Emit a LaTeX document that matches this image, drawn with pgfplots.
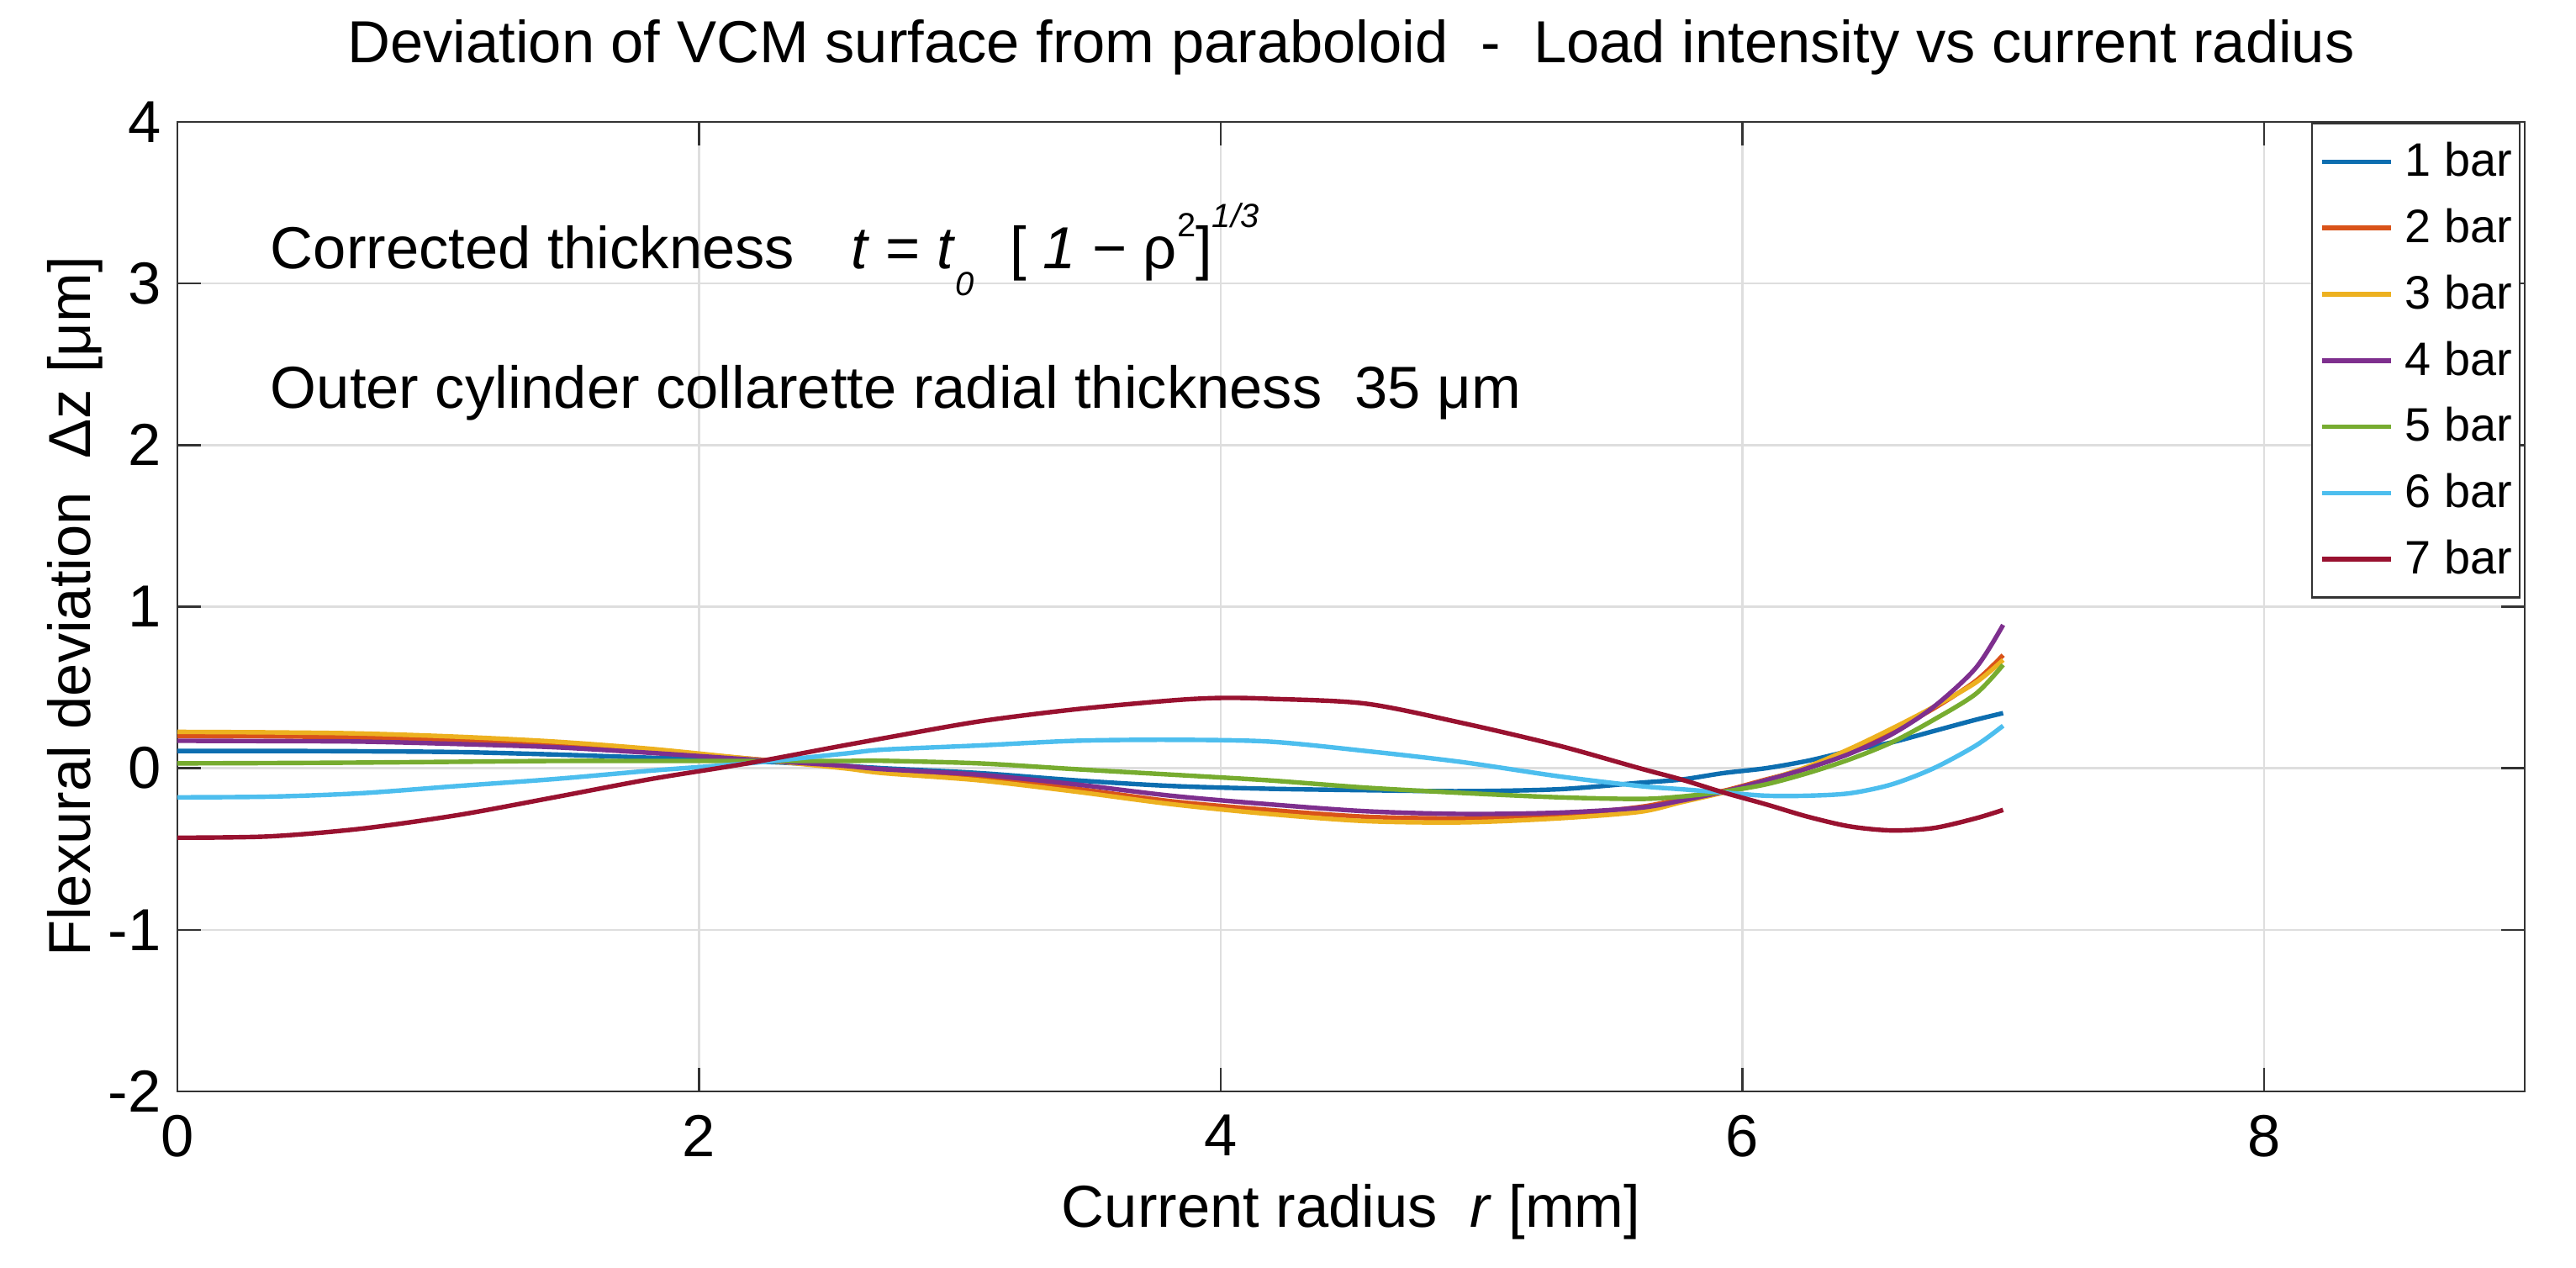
\documentclass[border=0pt]{standalone}
\usepackage{fontspec}
\setmainfont{Liberation Sans}
\usepackage{pgfplots}
\pgfplotsset{compat=1.18}
\definecolor{c1}{rgb}{0.05,0.43,0.69}
\definecolor{c2}{rgb}{0.85,0.325,0.098}
\definecolor{c3}{rgb}{0.929,0.694,0.125}
\definecolor{c4}{rgb}{0.494,0.184,0.556}
\definecolor{c5}{rgb}{0.466,0.674,0.188}
\definecolor{c6}{rgb}{0.301,0.745,0.933}
\definecolor{c7}{rgb}{0.60,0.07,0.19}
\newcommand\bigf{\fontsize{17.7}{21}\selectfont}
\newcommand\smf{\fontsize{10}{12}\selectfont}
\begin{document}
\begin{tikzpicture}
\begin{axis}[name=ax, scale only axis, width=698bp, height=288.25bp,
  xmin=0, xmax=9, ymin=-2, ymax=4,
  xtick={0,2,4,6,8}, ytick={-2,-1,0,1,2,3,4},
  grid=major, major grid style={color=black!13, line width=0.6bp},
  axis line style={color=black!80, line width=0.6bp},
  tick style={color=black!80, line width=0.6bp},
  tick align=inside, major tick length=7bp,
  /pgf/number format/assume math mode=true,
  ticklabel style={font=\bigf},
  xticklabel style={yshift=-3.5bp},
  yticklabel style={xshift=-1.4bp},
  title={Deviation of VCM surface from paraboloid\ \ -\ \ Load intensity vs current radius},
  title style={at={([yshift=16.25bp]axis description cs:0.5,1)}, anchor=center, font=\bigf},
  xlabel={Current radius\ \ \textit{r} [mm]},
  xlabel style={at={([yshift=-35.75bp]axis description cs:0.5,0)}, anchor=center, font=\bigf},
  ylabel={Flexural deviation\ \ Δz [μm]},
  ylabel style={at={([xshift=-30.5bp]axis description cs:0,0.5)}, anchor=center, font=\bigf},
  legend image code/.code={\draw[#1, line width=1.4bp] (0bp,0bp) -- (20.5bp,0bp);},
  legend cell align=left,
  legend style={at={(1,1)}, anchor=north east, xshift=-1.25bp, yshift=-0.25bp,
    draw=black!80, line width=0.6bp, fill=white,
    font=\fontsize{14}{16}\selectfont,
    inner xsep=2.25bp, inner ysep=4bp,
    row sep=5.1bp, column sep=3.5bp,
    nodes={inner xsep=0pt, inner ysep=1.5bp}},
  every axis plot/.append style={line width=1.35bp, smooth, no markers},
]
\addplot[c1] coordinates {(0,0.107)(0.35,0.107)(0.70,0.105)(1.075,0.10)(1.445,0.085)(1.815,0.065)(2.185,0.045)(2.555,0.015)(2.705,0.0)(3.075,-0.03)(3.445,-0.075)(3.815,-0.11)(4.185,-0.127)(4.555,-0.136)(4.926,-0.142)(5.296,-0.13)(5.606,-0.09)(5.767,-0.07)(5.928,-0.03)(6.09,0.0)(6.251,0.046)(6.412,0.107)(6.573,0.16)(6.734,0.23)(6.895,0.30)(7.0,0.341)};
\addlegendentry{1 bar}
\addplot[c2] coordinates {(0,0.20)(0.35,0.198)(0.70,0.19)(1.075,0.175)(1.445,0.15)(1.815,0.11)(2.185,0.06)(2.555,0.01)(2.705,-0.02)(3.075,-0.06)(3.445,-0.127)(3.815,-0.205)(4.185,-0.258)(4.555,-0.30)(4.926,-0.31)(5.296,-0.29)(5.606,-0.24)(5.767,-0.19)(5.928,-0.14)(6.09,-0.07)(6.251,0.0)(6.412,0.107)(6.573,0.23)(6.734,0.37)(6.895,0.54)(7.0,0.70)};
\addlegendentry{2 bar}
\addplot[c3] coordinates {(0,0.225)(0.35,0.222)(0.70,0.215)(1.075,0.195)(1.445,0.165)(1.815,0.12)(2.185,0.06)(2.555,0.0)(2.705,-0.03)(3.075,-0.075)(3.445,-0.145)(3.815,-0.223)(4.185,-0.283)(4.555,-0.327)(4.926,-0.335)(5.296,-0.31)(5.606,-0.27)(5.767,-0.21)(5.928,-0.15)(6.09,-0.075)(6.251,0.01)(6.412,0.12)(6.573,0.245)(6.734,0.38)(6.895,0.53)(7.0,0.67)};
\addlegendentry{3 bar}
\addplot[c4] coordinates {(0,0.17)(0.35,0.168)(0.70,0.165)(1.075,0.15)(1.445,0.13)(1.815,0.095)(2.185,0.055)(2.555,0.015)(2.705,-0.006)(3.075,-0.04)(3.445,-0.10)(3.815,-0.171)(4.185,-0.223)(4.555,-0.266)(4.926,-0.283)(5.296,-0.275)(5.606,-0.245)(5.767,-0.20)(5.928,-0.145)(6.09,-0.075)(6.251,0.0)(6.412,0.09)(6.573,0.21)(6.734,0.38)(6.895,0.62)(7.0,0.887)};
\addlegendentry{4 bar}
\addplot[c5] coordinates {(0,0.03)(0.35,0.032)(0.70,0.035)(1.075,0.04)(1.445,0.045)(1.815,0.045)(2.185,0.045)(2.555,0.045)(2.705,0.046)(3.075,0.03)(3.445,-0.006)(3.815,-0.04)(4.185,-0.075)(4.555,-0.12)(4.926,-0.153)(5.296,-0.18)(5.606,-0.19)(5.767,-0.175)(5.928,-0.145)(6.09,-0.10)(6.251,-0.03)(6.412,0.055)(6.573,0.16)(6.734,0.30)(6.895,0.46)(7.0,0.64)};
\addlegendentry{5 bar}
\addplot[c6] coordinates {(0,-0.18)(0.35,-0.176)(0.70,-0.155)(1.075,-0.11)(1.445,-0.067)(1.815,-0.015)(2.185,0.03)(2.555,0.09)(2.705,0.115)(3.075,0.141)(3.445,0.17)(3.815,0.176)(4.185,0.165)(4.555,0.107)(4.926,0.038)(5.296,-0.05)(5.606,-0.11)(5.767,-0.13)(5.928,-0.15)(6.09,-0.17)(6.251,-0.17)(6.412,-0.155)(6.573,-0.10)(6.734,0.0)(6.895,0.14)(7.0,0.263)};
\addlegendentry{6 bar}
\addplot[c7] coordinates {(0,-0.43)(0.35,-0.422)(0.70,-0.375)(1.075,-0.29)(1.445,-0.18)(1.815,-0.067)(2.185,0.03)(2.555,0.141)(2.705,0.185)(3.075,0.29)(3.445,0.365)(3.815,0.42)(4.0,0.435)(4.185,0.43)(4.555,0.40)(4.926,0.28)(5.296,0.14)(5.606,0.0)(5.767,-0.07)(5.928,-0.15)(6.09,-0.223)(6.251,-0.30)(6.412,-0.36)(6.573,-0.385)(6.734,-0.37)(6.895,-0.31)(7.0,-0.258)};
\addlegendentry{7 bar}
\node[anchor=base west, font=\bigf, inner sep=0pt] at (axis cs:0.355,3.09) {Corrected thickness\hspace{0.95em}\textit{t} = \textit{t}\raisebox{-0.45em}{\smf\textit{0}}\hspace{0.6em}[ \textit{1} − ρ\raisebox{0.55em}{\smf 2}]\raisebox{0.7em}{\smf\textit{1/3}}};
\node[anchor=base west, font=\bigf, inner sep=0pt] at (axis cs:0.355,2.23) {Outer cylinder collarette radial thickness\ \ 35 μm};
\end{axis}
\pgfresetboundingbox
\path ([shift={(-52.75bp,-52.5bp)}]ax.south west) rectangle ([shift={(15.25bp,36.25bp)}]ax.north east);
\end{tikzpicture}
\end{document}
